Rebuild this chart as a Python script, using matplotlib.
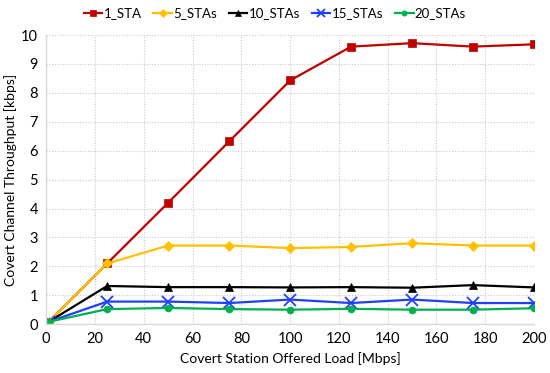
import matplotlib
matplotlib.use("Agg")
import matplotlib.pyplot as plt

plt.rcParams["font.family"] = ["Lato", "DejaVu Sans"]

# offered load [Mbps]
x_load = [1, 25, 50, 75, 100, 125, 150, 175, 200]

# covert channel throughput [kbps]
sta_1 = [0.08, 2.1, 4.2, 6.32, 8.43, 9.6, 9.72, 9.6, 9.68]
sta_5 = [0.08, 2.1, 2.72, 2.72, 2.63, 2.67, 2.8, 2.72, 2.72]
sta_10 = [0.08, 1.32, 1.28, 1.28, 1.27, 1.28, 1.26, 1.35, 1.27]
sta_15 = [0.08, 0.78, 0.78, 0.73, 0.85, 0.73, 0.85, 0.73, 0.73]
sta_20 = [0.08, 0.52, 0.56, 0.52, 0.5, 0.53, 0.5, 0.5, 0.55]

series = [
    ("1_STA", sta_1, "#C00000", "s", 6),
    ("5_STAs", sta_5, "#FFC000", "D", 5),
    ("10_STAs", sta_10, "black", "^", 6),
    ("15_STAs", sta_15, "#1F3FFF", "x", 8),
    ("20_STAs", sta_20, "#00B050", "o", 5),
]

fig = plt.figure(figsize=(5.5, 3.73), dpi=100)
ax = fig.add_axes([0.084, 0.131, 0.887, 0.775])

for label, vals, color, marker, ms in series:
    ax.plot(x_load, vals, color=color, marker=marker, markersize=ms,
            linewidth=1.6, label=label, markeredgewidth=1.3 if marker == "x" else 0.5)

ax.set_xlim(0, 200)
ax.set_ylim(0, 10)
ax.set_xticks(range(0, 201, 20))
ax.set_yticks(range(0, 11))
ax.grid(True, color="#C8C8C8", linestyle=(0, (1, 1.5)), linewidth=0.8)
ax.set_axisbelow(True)

for side in ("top", "right"):
    ax.spines[side].set_visible(False)
for side in ("left", "bottom"):
    ax.spines[side].set_color("#D9D9D9")
    ax.spines[side].set_linewidth(1.0)
ax.tick_params(length=0, labelsize=10.5, pad=6)

ax.set_xlabel("Covert Station Offered Load [Mbps]", fontsize=10, labelpad=4)
ax.set_ylabel("Covert Channel Throughput [kbps]", fontsize=10, labelpad=3)

fig.legend(loc="upper center", bbox_to_anchor=(0.5, 1.012), ncol=5, frameon=False,
           fontsize=9.5, handlelength=1.4, handletextpad=0.1, columnspacing=0.9,
           markerscale=0.75)

fig.savefig("out.png", dpi=100)
